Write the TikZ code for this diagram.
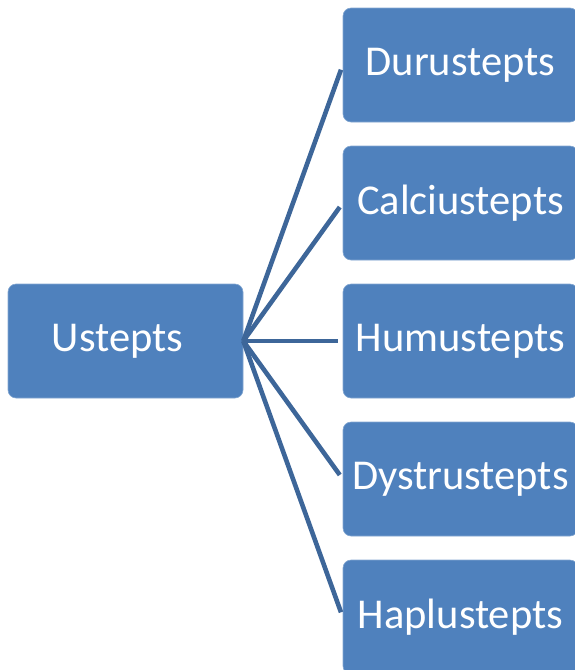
\documentclass[tikz,border=0pt]{standalone}
\usepackage{fontspec}
\setmainfont{Carlito}
\definecolor{boxblue}{HTML}{4F81BD}
\definecolor{lineblue}{HTML}{3D6699}
\begin{document}
\begin{tikzpicture}[x=1pt,y=-1pt,
  box/.style={fill=boxblue, draw=boxblue!70!white, line width=0.6pt, rounded corners=8pt,
    minimum width=235pt, minimum height=114pt, inner sep=0pt,
    text=white, font=\fontsize{42.5}{42.5}\selectfont},
  conn/.style={draw=lineblue, line width=4.6pt, shorten >=5pt}]
\useasboundingbox (0,0) rectangle (574,670);
\node[box] (u) at (125.5,341) {\hspace*{-16pt}Ustepts};
\node[box] (d1) at (460.5,65) {Durustepts};
\node[box] (d2) at (460.5,203) {Calciustepts};
\node[box] (d3) at (460.5,341) {Humustepts};
\node[box] (d4) at (460.5,479) {Dystrustepts};
\node[box] (d5) at (460.5,617) {Haplustepts};
\foreach \n in {d1,d2,d3,d4,d5}
  \draw[conn] (u.east) -- (\n.west);
\end{tikzpicture}
\end{document}
